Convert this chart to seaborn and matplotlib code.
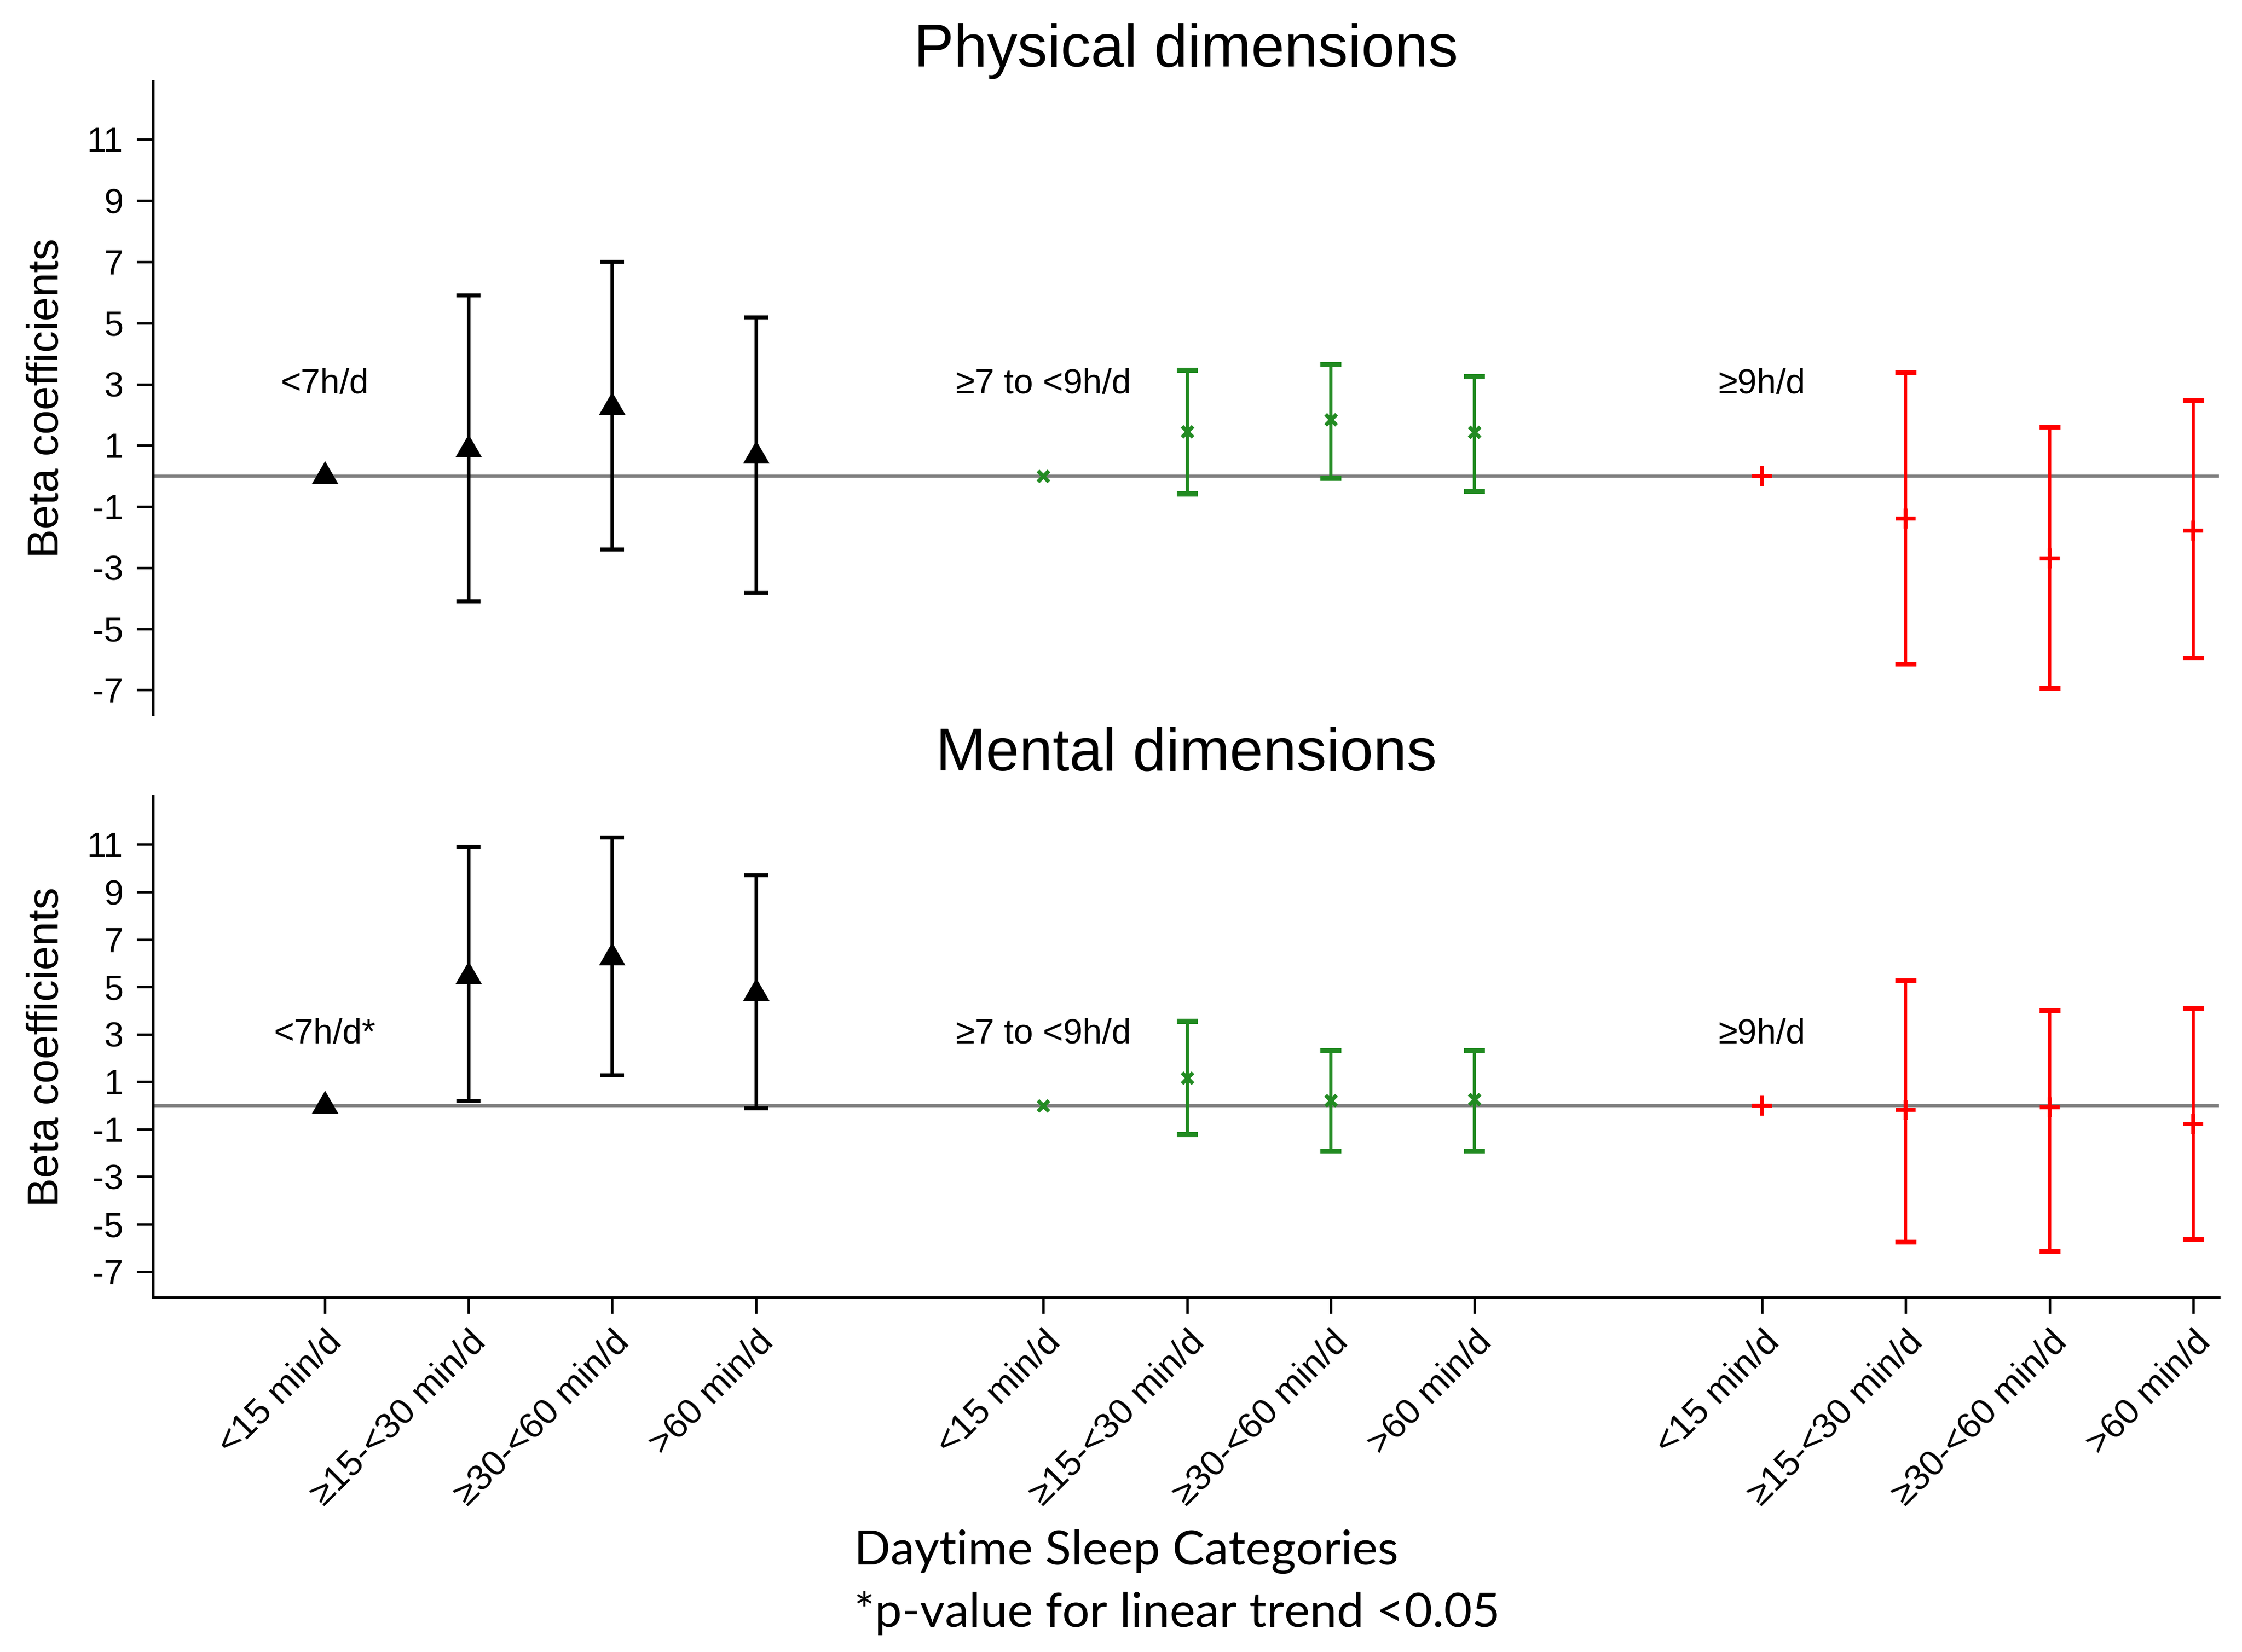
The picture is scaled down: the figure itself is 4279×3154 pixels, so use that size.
import numpy as np
import pandas as pd
import matplotlib.pyplot as plt
import seaborn as sns

# categories
night_groups = ["<7h/d", "≥7 to <9h/d", "≥9h/d"]
nap_cats = ["<15 min/d", "≥15-<30 min/d", "≥30-<60 min/d", ">60 min/d"]
nan = np.nan

# Physical dimensions: beta and 95% CI (first nap category is the reference)
phys_est = [[0, 0.86, 2.25, 0.67], [0, 1.45, 1.84, 1.44], [0, -1.40, -2.70, -1.78]]
phys_lo = [[nan, -4.10, -2.40, -3.82], [nan, -0.58, -0.07, -0.51], [nan, -6.16, -6.95, -5.95]]
phys_hi = [[nan, 5.90, 7.00, 5.18], [nan, 3.45, 3.64, 3.25], [nan, 3.38, 1.60, 2.47]]

# Mental dimensions
ment_est = [[0, 5.44, 6.23, 4.73], [0, 1.17, 0.22, 0.25], [0, -0.18, -0.07, -0.78]]
ment_lo = [[nan, 0.20, 1.28, -0.11], [nan, -1.23, -1.93, -1.93], [nan, -5.75, -6.15, -5.64]]
ment_hi = [[nan, 10.90, 11.30, 9.70], [nan, 3.54, 2.30, 2.30], [nan, 5.27, 4.00, 4.10]]

panel_titles = ["Physical dimensions", "Mental dimensions"]
group_labels = [["<7h/d", "≥7 to <9h/d", "≥9h/d"], ["<7h/d*", "≥7 to <9h/d", "≥9h/d"]]
y_ticks = [11, 9, 7, 5, 3, 1, -1, -3, -5, -7]


def make_df(est, lo, hi):
    rows = []
    for g, grp in enumerate(night_groups):
        for j, cat in enumerate(nap_cats):
            rows.append({"group": grp, "nap": cat, "pos": g * 5 + j + 1,
                         "est": est[g][j], "lo": lo[g][j], "hi": hi[g][j]})
    return pd.DataFrame(rows)


# equilateral triangle centred on its centroid
tri = [(0, 0.577), (-0.5, -0.289), (0.5, -0.289), (0, 0.577)]
styles = {
    "<7h/d": dict(color="black", marker=tri, ms=14, elw=1.6, cap=5.5, capw=1.8),
    "≥7 to <9h/d": dict(color="#228B22", marker="x", ms=5, elw=1.5, cap=4.8, capw=2.4),
    "≥9h/d": dict(color="#FF0000", marker="+", ms=9, elw=1.4, cap=4.8, capw=2.2),
}

sns.set_style("ticks")
plt.rcParams["font.family"] = ["Liberation Sans", "DejaVu Sans"]
plt.rcParams["text.color"] = "black"
plt.rcParams["axes.labelcolor"] = "black"
plt.rcParams["xtick.color"] = "black"
plt.rcParams["ytick.color"] = "black"

fig = plt.figure(figsize=(4279 / 300, 3154 / 300), dpi=300)
ax_top = fig.add_axes([0.0682, 0.5675, 0.9216, 0.3832])
ax_bot = fig.add_axes([0.0682, 0.2145, 0.9216, 0.3037])

panels = [(ax_top, make_df(phys_est, phys_lo, phys_hi), (-7.8, 12.9)),
          (ax_bot, make_df(ment_est, ment_lo, ment_hi), (-8.1, 13.05))]

for i, (ax, df, ylim) in enumerate(panels):
    ax.axhline(0, color="#808080", lw=1.4, zorder=1)
    for grp, sub in df.groupby("group", sort=False):
        st = styles[grp]
        ci = sub.dropna(subset=["lo"])
        ax.errorbar(ci["pos"], ci["est"], yerr=[ci["est"] - ci["lo"], ci["hi"] - ci["est"]],
                    fmt="none", ecolor=st["color"], elinewidth=st["elw"],
                    capsize=st["cap"], capthick=st["capw"], zorder=2)
        sns.scatterplot(data=sub, x="pos", y="est", ax=ax, marker=st["marker"],
                        s=st["ms"] ** 2, color=st["color"],
                        linewidth=(0 if grp == "<7h/d" else 1.8),
                        edgecolor=st["color"], zorder=3, legend=False)
        first = sub["pos"].iloc[0]
        ax.text(first, 3.0, group_labels[i][night_groups.index(grp)],
                ha="center", va="center", fontsize=16)

    ax.set_xlim(-0.195, 14.18)
    ax.set_ylim(*ylim)
    ax.set_yticks(y_ticks)
    ax.set_yticklabels([str(t) for t in y_ticks])
    ax.tick_params(axis="y", labelsize=16, length=7.5, width=1.1, pad=6, color="black")
    ax.set_ylabel("Beta coefficients", fontsize=20)
    ax.yaxis.set_label_coords(-0.0415, 0.5)
    ax.set_xlabel("")
    for side in ["top", "right"]:
        ax.spines[side].set_visible(False)
    for side in ["left", "bottom"]:
        ax.spines[side].set_linewidth(1.2)
        ax.spines[side].set_color("black")

# top panel has no x axis
ax_top.spines["bottom"].set_visible(False)
ax_top.set_xticks([])

df_b = panels[1][1]
ax_bot.set_xticks(df_b["pos"])
ax_bot.set_xticklabels(df_b["nap"], rotation=45, ha="right", va="top",
                       rotation_mode="anchor", fontsize=16.5)
ax_bot.tick_params(axis="x", length=7.5, width=1.1, pad=5, color="black")

fig.text(0.529, 0.969, panel_titles[0], ha="center", va="center", fontsize=27.5)
fig.text(0.529, 0.543, panel_titles[1], ha="center", va="center", fontsize=27.5)

fig.text(0.381, 0.0606, "Daytime Sleep Categories", ha="left", va="center",
         fontsize=22, family=["Lato", "DejaVu Sans"])
fig.text(0.381, 0.0234, "*p-value for linear trend <0.05", ha="left", va="center",
         fontsize=22.2, family=["Lato", "DejaVu Sans"])

fig.savefig("out.png", dpi=300)
